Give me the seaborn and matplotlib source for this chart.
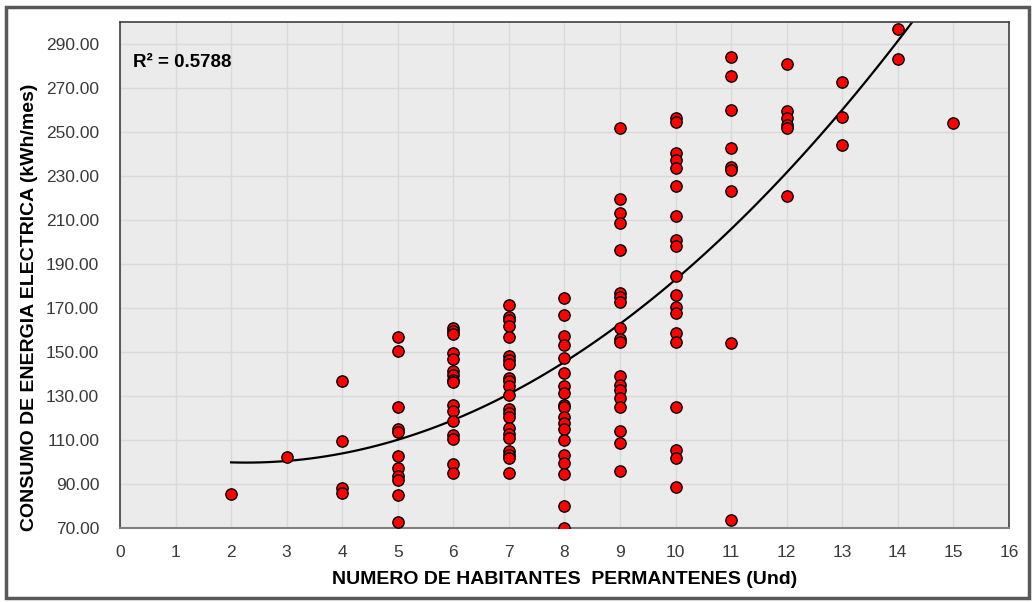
import matplotlib
matplotlib.use("Agg")
from matplotlib import pyplot as plt
from matplotlib.patches import Rectangle
import numpy as np
import pandas as pd
import seaborn as sns

# readings per number of permanent inhabitants (kWh/mes)
hab_2 = [85.5]
hab_3 = [102.3]
hab_4 = [136.8, 109.5, 88.3, 86.0]
hab_5 = [157.0, 150.5, 125.0, 115.0, 113.8, 102.7, 97.4, 93.6, 91.8, 85.0, 72.9]
hab_6 = [161.0, 159.7, 158.0, 149.7, 146.8, 141.5, 139.5, 137.3, 136.2, 125.9,
         123.3, 118.6, 112.3, 110.3, 99.1, 94.9]
hab_7 = [171.5, 166.0, 164.5, 161.8, 156.7, 148.2, 146.4, 144.5, 138.3, 136.8,
         134.5, 130.5, 124.0, 122.4, 120.6, 115.3, 112.7, 111.0, 105.2, 103.2,
         101.7, 95.1]
hab_8 = [174.4, 166.8, 157.3, 153.2, 147.1, 140.3, 134.5, 131.2, 125.9, 125.1,
         120.6, 117.6, 115.0, 110.0, 103.2, 99.7, 94.5, 80.1, 69.9]
hab_9 = [251.8, 219.5, 213.3, 208.8, 196.4, 177.0, 175.2, 172.9, 161.0, 155.9,
         154.4, 139.1, 135.0, 132.7, 129.2, 125.1, 114.1, 108.8, 96.1]
hab_10 = [256.2, 254.7, 240.3, 237.3, 233.8, 225.6, 212.0, 200.9, 198.2, 184.5,
          175.9, 170.3, 167.6, 158.5, 154.4, 124.9, 105.5, 101.7, 88.8]
hab_11 = [284.0, 275.6, 260.0, 242.9, 234.0, 232.7, 223.2, 153.9, 73.6]
hab_12 = [280.8, 259.7, 256.2, 253.2, 251.7, 220.9]
hab_13 = [272.9, 257.0, 244.1]
hab_14 = [297.0, 283.0]
hab_15 = [254.2]

groups = {2: hab_2, 3: hab_3, 4: hab_4, 5: hab_5, 6: hab_6, 7: hab_7, 8: hab_8,
          9: hab_9, 10: hab_10, 11: hab_11, 12: hab_12, 13: hab_13, 14: hab_14,
          15: hab_15}
df = pd.DataFrame([(k, v) for k, vals in groups.items() for v in vals],
                  columns=["habitantes", "consumo"])

x_ticks = list(range(0, 17))
y_ticks = list(range(70, 300, 20))
r2_label = "R² = 0.5788"

fig = plt.figure(figsize=(10.36, 6.02), dpi=100)
ax = fig.add_axes([0.1158, 0.123, 0.858, 0.8405])
ax.set_facecolor("#EBEBEB")

sns.regplot(data=df, x="habitantes", y="consumo", order=2, ci=None,
            scatter=False, truncate=True, ax=ax,
            line_kws=dict(color="black", lw=1.6, zorder=2))
sns.scatterplot(data=df, x="habitantes", y="consumo", ax=ax, s=66,
                color="#FF0000", edgecolor="black", linewidth=1.0, zorder=3)

ax.set_xlim(0, 16)
ax.set_ylim(70, 300)
ax.set_xticks(x_ticks)
ax.set_yticks(y_ticks)
ax.set_yticklabels([f"{v:.2f}" for v in y_ticks])
ax.grid(True, color="#D9D9D9", lw=1.0)
ax.set_axisbelow(True)
ax.tick_params(length=0, labelsize=12.5, colors="#3A3A3A")
ax.tick_params(axis="y", pad=15)
ax.tick_params(axis="x", pad=12)
for lab in ax.get_xticklabels() + ax.get_yticklabels():
    lab.set_family("Liberation Sans")

for side in ["top", "left", "right"]:
    ax.spines[side].set_color("#404040")
    ax.spines[side].set_linewidth(1.2)
ax.spines["bottom"].set_color("#7F7F7F")
ax.spines["bottom"].set_linewidth(1.5)

ax.set_xlabel("NUMERO DE HABITANTES  PERMANTENES (Und)", fontsize=14,
              fontweight="bold", family="Liberation Sans", labelpad=8)
ax.set_ylabel("CONSUMO DE ENERGIA ELECTRICA (kWh/mes)", fontsize=14,
              fontweight="bold", family="Liberation Sans")
ax.yaxis.set_label_coords(-0.092, 0.437)

ax.text(0.015, 0.919, r2_label, transform=ax.transAxes, fontsize=13.5,
        fontweight="bold", family="Liberation Sans", va="center", ha="left")

fig.patches.append(Rectangle((0.0055, 0.007), 0.988, 0.982,
                             transform=fig.transFigure, fill=False,
                             edgecolor="#595959", lw=2.5))

fig.savefig("out.png", dpi=100)
